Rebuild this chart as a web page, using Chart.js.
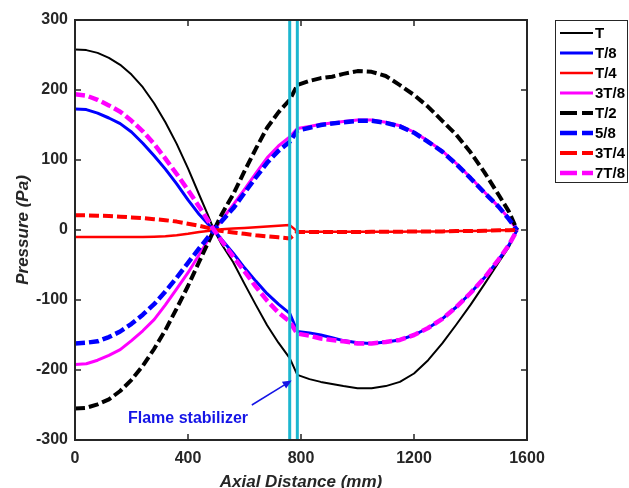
<!DOCTYPE html>
<html>
<head>
<meta charset="utf-8">
<script src="https://cdn.jsdelivr.net/npm/chart.js@4.4.0/dist/chart.umd.min.js"></script>
<style>
  html, body { margin: 0; padding: 0; background: #fff; }
  #wrap { width: 629px; height: 488px; }
</style>
</head>
<body>
<div id="wrap"><canvas id="modes" width="629" height="488"></canvas></div>
<script>
// axial positions (mm) where the pressure mode shape is sampled
const axialPos = [0, 40, 80, 120, 160, 200, 240, 280, 320, 360, 400, 440, 470, 492,
  520, 560, 600, 640, 680, 720, 760, 787, 830, 870, 910, 950, 1000, 1050, 1100,
  1150, 1200, 1250, 1300, 1350, 1400, 1450, 1500, 1535, 1565];

// pressure (Pa) at each phase of the oscillation cycle
const pT   = [258, 257, 253, 246, 236, 222, 204, 181, 154, 123, 88, 50, 22, 0,
  -21, -46, -77, -107, -136, -161, -183, -207, -213, -217, -220, -223, -226, -226, -223,
  -217, -205, -186, -162, -135, -107, -77, -46, -25, 0];
const pT8  = [173, 172, 167, 160, 152, 140, 124, 106, 87, 66, 43, 22, 9, 0,
  -14, -33, -54, -73, -91, -106, -119, -145, -147, -150, -154, -158, -161, -162, -160,
  -157, -150, -140, -127, -110, -90, -68, -42, -22, 0];
const pT4  = [-10, -10, -10, -10, -10, -10, -10, -9.5, -9, -7.5, -5.5, -3, -1.5, 0,
  1, 2, 3, 4, 5, 6, 7, -2, -2.5, -2.5, -2.5, -2.5, -2.5, -2.5, -2.5,
  -2.5, -2, -2, -2, -1.5, -1.5, -1, -0.5, -0.5, 0];
const p3T8 = [-192, -191, -186, -179, -171, -158, -144, -128, -107, -84, -61, -35, -15, 0,
  15, 36, 58, 81, 103, 120, 133, 145, 148, 151, 153, 155, 157, 157, 154,
  149, 140, 127, 113, 95, 75, 54, 33, 17, 0];
const pT2  = [-255, -254, -249, -242, -230, -214, -194, -170, -143, -112, -80, -45, -19, 0,
  23, 51, 84, 116, 146, 168, 186, 207, 213, 217, 219, 223, 227, 226, 220,
  207, 193, 176, 156, 136, 111, 82, 50, 27, 0];
const p5T8 = [-162, -161, -159, -153, -145, -134, -121, -106, -88, -68, -47, -26, -11, 0,
  13, 31, 53, 75, 96, 113, 126, 142, 146, 150, 152, 154, 156, 156, 153,
  148, 139, 126, 112, 94, 74, 53, 33, 16, 0];
const p3T4 = [21, 21, 20.5, 20, 19, 18, 17, 15.5, 14, 12, 9, 6, 3, 0,
  -1.5, -3.5, -5.5, -7.5, -9, -10.5, -12, -3, -3, -3, -3, -3, -3, -2.5, -2.5,
  -2.5, -2, -2, -2, -1.5, -1.5, -1, -0.5, -0.5, 0];
const p7T8 = [194, 192, 186, 178, 169, 156, 141, 123, 102, 80, 57, 33, 14, 0,
  -16, -38, -59, -81, -101, -118, -131, -148, -151, -155, -157, -159, -162, -162, -160,
  -157, -150, -140, -127, -110, -90, -68, -42, -22, 0];

const phaseLabels = ['T', 'T/8', 'T/4', '3T/8', 'T/2', '5/8', '3T/4', '7T/8'];
const phaseSeries = [pT, pT8, pT4, p3T8, pT2, p5T8, p3T4, p7T8];

// flame stabilizer edges (mm)
const stabilizerPos = [760, 787];

const xTicks = [0, 400, 800, 1200, 1600];
const yTicks = [-300, -200, -100, 0, 100, 200, 300];

const AXIS_COLOR = '#262626';
const FONT = '"Liberation Sans", Arial, Helvetica, sans-serif';

// line look per phase: solid for the first half cycle, dashed for the second
const lineStyles = [
  { color: '#000000', width: 2,   dash: [] },
  { color: '#0000ff', width: 3,   dash: [] },
  { color: '#ff0000', width: 2.5, dash: [] },
  { color: '#ff00ff', width: 3,   dash: [] },
  { color: '#000000', width: 4,   dash: [10, 4] },
  { color: '#0000ff', width: 4.5, dash: [10, 4] },
  { color: '#ff0000', width: 4,   dash: [10, 4] },
  { color: '#ff00ff', width: 4.5, dash: [10, 4] }
];

const datasets = phaseSeries.map((vals, i) => ({
  label: phaseLabels[i],
  data: vals.map((v, k) => ({ x: axialPos[k], y: v })),
  borderColor: lineStyles[i].color,
  borderWidth: lineStyles[i].width,
  borderDash: lineStyles[i].dash,
  borderCapStyle: 'butt',
  borderJoinStyle: 'round',
  pointRadius: 0,
  tension: 0,
  fill: false,
  order: 20 - i
}));

stabilizerPos.forEach(pos => {
  datasets.push({
    label: '_stabilizer',
    data: [{ x: pos, y: -300 }, { x: pos, y: 300 }],
    borderColor: '#1cb6cf',
    borderWidth: 3,
    pointRadius: 0,
    fill: false,
    order: 0
  });
});

// box around the axes with inward ticks on all four sides
const axesFrame = {
  id: 'axesFrame',
  afterDatasetsDraw(chart) {
    const { ctx, chartArea: a, scales } = chart;
    ctx.save();
    ctx.strokeStyle = AXIS_COLOR;
    ctx.lineWidth = 2;
    ctx.setLineDash([]);
    ctx.strokeRect(a.left, a.top, a.right - a.left, a.bottom - a.top);
    ctx.lineWidth = 1.5;
    ctx.beginPath();
    xTicks.forEach(v => {
      const px = scales.x.getPixelForValue(v);
      ctx.moveTo(px, a.bottom); ctx.lineTo(px, a.bottom - 6);
      ctx.moveTo(px, a.top); ctx.lineTo(px, a.top + 6);
    });
    yTicks.forEach(v => {
      const py = scales.y.getPixelForValue(v);
      ctx.moveTo(a.left, py); ctx.lineTo(a.left + 6, py);
      ctx.moveTo(a.right, py); ctx.lineTo(a.right - 6, py);
    });
    ctx.stroke();
    ctx.restore();
  }
};

// axis titles, legend box and the stabilizer callout
const decorations = {
  id: 'decorations',
  afterDraw(chart) {
    const { ctx, chartArea: a, scales } = chart;
    ctx.save();

    ctx.fillStyle = AXIS_COLOR;
    ctx.font = `italic bold 17px ${FONT}`;
    ctx.textAlign = 'center';
    ctx.textBaseline = 'alphabetic';
    ctx.fillText('Axial Distance (mm)', (a.left + a.right) / 2, 487);
    ctx.save();
    ctx.translate(28, (a.top + a.bottom) / 2);
    ctx.rotate(-Math.PI / 2);
    ctx.fillText('Pressure (Pa)', 0, 0);
    ctx.restore();

    // legend
    const lx = 555.5, ly = 20.5;
    ctx.fillStyle = '#ffffff';
    ctx.fillRect(lx, ly, 72, 162);
    ctx.strokeStyle = AXIS_COLOR;
    ctx.lineWidth = 1;
    ctx.strokeRect(lx, ly, 72, 162);
    ctx.font = `bold 15px ${FONT}`;
    ctx.textAlign = 'left';
    ctx.textBaseline = 'middle';
    phaseLabels.forEach((lab, i) => {
      const st = lineStyles[i];
      const y = 33 + i * 20;
      ctx.beginPath();
      ctx.strokeStyle = st.color;
      ctx.lineWidth = st.width;
      ctx.setLineDash(st.dash.length ? [17, 5] : []);
      ctx.moveTo(560, y);
      ctx.lineTo(593, y);
      ctx.stroke();
      ctx.setLineDash([]);
      ctx.fillStyle = '#000000';
      ctx.fillText(lab, 595, y + 1);
    });

    // flame stabilizer callout
    const blue = '#1414e6';
    ctx.fillStyle = blue;
    ctx.strokeStyle = blue;
    ctx.font = `bold 16px ${FONT}`;
    ctx.textAlign = 'center';
    ctx.textBaseline = 'alphabetic';
    ctx.fillText('Flame stabilizer', scales.x.getPixelForValue(400), scales.y.getPixelForValue(-276));
    const x0 = scales.x.getPixelForValue(626), y0 = scales.y.getPixelForValue(-250);
    const x1 = scales.x.getPixelForValue(767), y1 = scales.y.getPixelForValue(-215);
    const ang = Math.atan2(y1 - y0, x1 - x0);
    ctx.lineWidth = 1.5;
    ctx.beginPath();
    ctx.moveTo(x0, y0);
    ctx.lineTo(x1 - 6 * Math.cos(ang), y1 - 6 * Math.sin(ang));
    ctx.stroke();
    ctx.beginPath();
    ctx.moveTo(x1, y1);
    ctx.lineTo(x1 - 9 * Math.cos(ang) + 4 * Math.sin(ang), y1 - 9 * Math.sin(ang) - 4 * Math.cos(ang));
    ctx.lineTo(x1 - 9 * Math.cos(ang) - 4 * Math.sin(ang), y1 - 9 * Math.sin(ang) + 4 * Math.cos(ang));
    ctx.closePath();
    ctx.fill();

    ctx.restore();
  }
};

new Chart(document.getElementById('modes'), {
  type: 'line',
  data: { datasets },
  options: {
    responsive: false,
    animation: false,
    devicePixelRatio: 1,
    layout: { padding: { left: 0, right: 102, top: 20, bottom: 0 } },
    plugins: {
      legend: { display: false },
      tooltip: { enabled: false }
    },
    scales: {
      x: {
        type: 'linear',
        min: 0,
        max: 1600,
        afterBuildTicks: s => { s.ticks = xTicks.map(v => ({ value: v })); },
        afterFit: s => { s.height = 48; },
        grid: { display: false, drawTicks: false },
        border: { display: false },
        ticks: {
          padding: 9,
          maxRotation: 0,
          color: AXIS_COLOR,
          font: { family: FONT, size: 16, weight: 'bold' },
          callback: v => String(v)
        }
      },
      y: {
        type: 'linear',
        min: -300,
        max: 300,
        afterBuildTicks: s => { s.ticks = yTicks.map(v => ({ value: v })); },
        afterFit: s => { s.width = 75; },
        grid: { display: false, drawTicks: false },
        border: { display: false },
        ticks: {
          padding: 7,
          color: AXIS_COLOR,
          font: { family: FONT, size: 16, weight: 'bold' },
          callback: v => String(v)
        }
      }
    }
  },
  plugins: [axesFrame, decorations]
});
</script>
</body>
</html>
